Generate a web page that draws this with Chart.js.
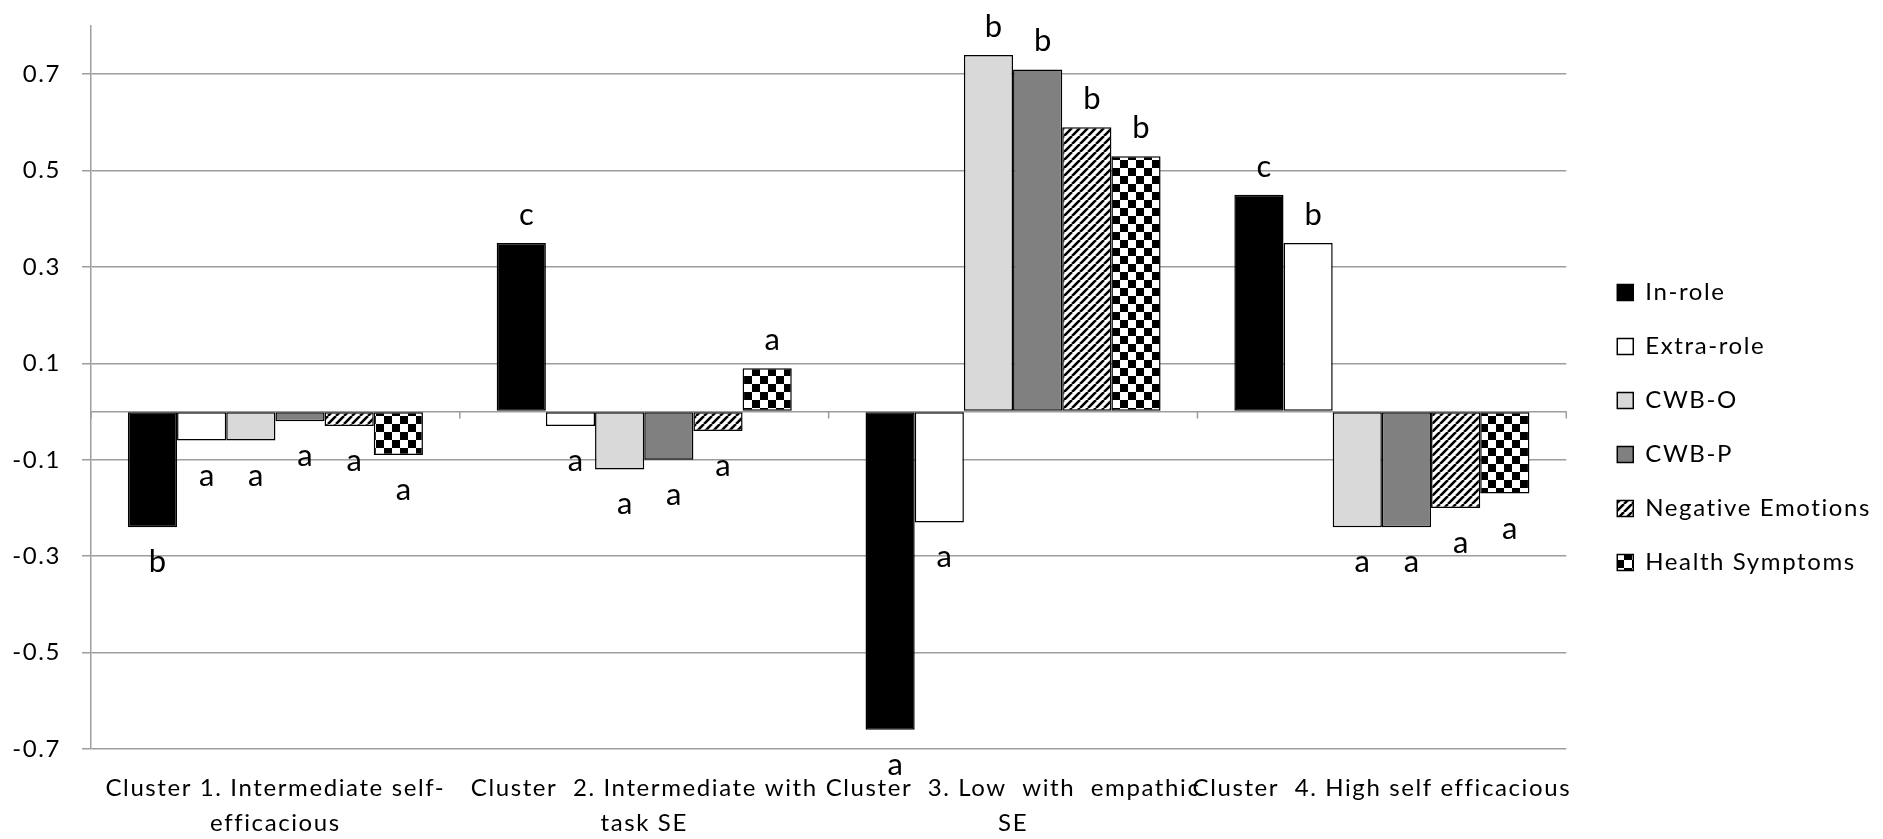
<!DOCTYPE html>
<html lang="en">
<head>
    <meta charset="UTF-8">
    <title>Cluster profiles</title>
    <style>
        html, body { margin: 0; padding: 0; background: #fff; }
        #wrap { width: 1883px; height: 839px; position: relative; }
    </style>
</head>
<body>

<div id="wrap"><canvas id="myChart"></canvas></div>

<script src="https://cdn.jsdelivr.net/npm/chart.js@4.4.1/dist/chart.umd.min.js"></script>
<script>
    // data
    var categories = [
        ['Cluster 1. Intermediate self-', 'efficacious'],
        ['Cluster  2. Intermediate with', 'task SE'],
        ['Cluster  3. Low  with  empathic', 'SE'],
        ['Cluster  4. High self efficacious']
    ];
    var seriesNames = ['In-role', 'Extra-role', 'CWB-O', 'CWB-P', 'Negative Emotions', 'Health Symptoms'];

    var inRole    = [-0.24,  0.35, -0.66,  0.45];
    var extraRole = [-0.06, -0.03, -0.23,  0.35];
    var cwbO      = [-0.06, -0.12,  0.74, -0.24];
    var cwbP      = [-0.02, -0.10,  0.71, -0.24];
    var negEmo    = [-0.03, -0.04,  0.59, -0.20];
    var health    = [-0.09,  0.09,  0.53, -0.17];

    // significance letters over / under each bar
    var inRoleLetters = ['b', 'c', 'a', 'c'];
    var extraLetters  = ['a', 'a', 'a', 'b'];
    var cwbOLetters   = ['a', 'a', 'b', 'a'];
    var cwbPLetters   = ['a', 'a', 'b', 'a'];
    var negLetters    = ['a', 'a', 'b', 'a'];
    var healthLetters = ['a', 'a', 'b', 'a'];

    var yTicks = [-0.7, -0.5, -0.3, -0.1, 0, 0.1, 0.3, 0.5, 0.7];

    var FONT = 'Lato';
    var gridGray = '#9d9d9d';

    Chart.defaults.font.family = FONT;
    Chart.defaults.color = '#000';

    function stripePattern() {
        var s = 8;
        var c = document.createElement('canvas');
        c.width = s; c.height = s;
        var g = c.getContext('2d');
        g.fillStyle = '#fff';
        g.fillRect(0, 0, s, s);
        g.strokeStyle = '#000';
        g.lineWidth = 2.6;
        g.beginPath();
        for (var k = -1; k <= 1; k++) {
            g.moveTo(k * s, s);
            g.lineTo(k * s + s, 0);
        }
        g.stroke();
        return g.createPattern(c, 'repeat');
    }

    function checkerPattern() {
        var q = 8;
        var c = document.createElement('canvas');
        c.width = q * 2; c.height = q * 2;
        var g = c.getContext('2d');
        g.fillStyle = '#fff';
        g.fillRect(0, 0, q * 2, q * 2);
        g.fillStyle = '#000';
        g.fillRect(0, 0, q, q);
        g.fillRect(q, q, q, q);
        return g.createPattern(c, 'repeat');
    }

    function bars(label, data, fill, letters) {
        return {
            label: label,
            data: data,
            letters: letters,
            backgroundColor: fill,
            borderColor: '#000',
            borderWidth: 1.5,
            borderSkipped: false,
            categoryPercentage: 0.8,
            barPercentage: 1.0
        };
    }

    // Excel-ish loose letter spacing
    var spacing = {
        id: 'spacing',
        beforeUpdate: function (chart) { chart.ctx.letterSpacing = '1.6px'; },
        beforeDraw: function (chart) { chart.ctx.letterSpacing = '1.6px'; }
    };

    // small tick marks on the zero line between clusters
    var zeroTicks = {
        id: 'zeroTicks',
        beforeDatasetsDraw: function (chart) {
            var xs = chart.scales.x, ys = chart.scales.y, ctx = chart.ctx;
            var y0 = ys.getPixelForValue(0);
            var step = xs.getPixelForValue(1) - xs.getPixelForValue(0);
            var start = xs.getPixelForValue(0) - step / 2;
            ctx.save();
            ctx.strokeStyle = gridGray;
            ctx.lineWidth = 1.5;
            ctx.beginPath();
            for (var i = 0; i <= categories.length; i++) {
                ctx.moveTo(start + i * step, y0);
                ctx.lineTo(start + i * step, y0 + 7);
            }
            ctx.stroke();
            ctx.restore();
        }
    };

    var letterLabels = {
        id: 'letterLabels',
        afterDatasetsDraw: function (chart) {
            var ctx = chart.ctx;
            ctx.save();
            ctx.letterSpacing = '0px';
            ctx.font = '31px ' + FONT;
            ctx.fillStyle = '#000';
            ctx.textAlign = 'center';
            ctx.textBaseline = 'middle';
            chart.data.datasets.forEach(function (ds, i) {
                chart.getDatasetMeta(i).data.forEach(function (bar, j) {
                    var y = ds.data[j] >= 0 ? bar.y - 28 : bar.y + 35;
                    ctx.fillText(ds.letters[j], bar.x + 5, y);
                });
            });
            ctx.restore();
        }
    };

    // nudge the legend to where Excel put it
    var legendShift = {
        id: 'legendShift',
        afterLayout: function (chart) {
            var l = chart.legend;
            l.left += 21; l.right += 21;
            l.top -= 5; l.bottom -= 5;
        }
    };

    new Chart(document.getElementById('myChart'), {
        type: 'bar',
        data: {
            labels: categories,
            datasets: [
                bars(seriesNames[0], inRole, '#000', inRoleLetters),
                bars(seriesNames[1], extraRole, '#fff', extraLetters),
                bars(seriesNames[2], cwbO, '#d9d9d9', cwbOLetters),
                bars(seriesNames[3], cwbP, '#808080', cwbPLetters),
                bars(seriesNames[4], negEmo, stripePattern(), negLetters),
                bars(seriesNames[5], health, checkerPattern(), healthLetters)
            ]
        },
        options: {
            responsive: true,
            maintainAspectRatio: false,
            animation: false,
            layout: { padding: { top: 26, right: 23, left: 0, bottom: 0 } },
            plugins: {
                legend: {
                    position: 'right',
                    labels: {
                        boxWidth: 16,
                        boxHeight: 16,
                        padding: 30,
                        color: '#000',
                        font: { family: FONT, size: 24 }
                    }
                },
                tooltip: { enabled: false }
            },
            scales: {
                x: {
                    grid: { display: false, drawTicks: false },
                    border: { display: false },
                    afterFit: function (scale) { scale.height = 90; },
                    ticks: {
                        autoSkip: false,
                        maxRotation: 0,
                        minRotation: 0,
                        padding: 22,
                        color: '#000',
                        font: { family: FONT, size: 24, lineHeight: 1.46 }
                    }
                },
                y: {
                    min: -0.7,
                    max: 0.8,
                    afterBuildTicks: function (scale) {
                        scale.ticks = yTicks.map(function (v) { return { value: v }; });
                    },
                    afterFit: function (scale) {
                        scale.width = 91;
                        scale.paddingTop = 0;
                        scale.paddingBottom = 0;
                    },
                    border: { display: true, color: gridGray, width: 1.5 },
                    grid: {
                        color: gridGray,
                        lineWidth: 1.5,
                        tickLength: 9,
                        tickColor: function (c) {
                            return c.tick && c.tick.value === 0 ? 'rgba(0,0,0,0)' : gridGray;
                        }
                    },
                    ticks: {
                        padding: 21,
                        color: '#000',
                        font: { family: FONT, size: 24 },
                        callback: function (v) { return v === 0 ? '' : v.toFixed(1); }
                    }
                }
            }
        },
        plugins: [spacing, zeroTicks, letterLabels, legendShift]
    });
</script>
</body>
</html>
